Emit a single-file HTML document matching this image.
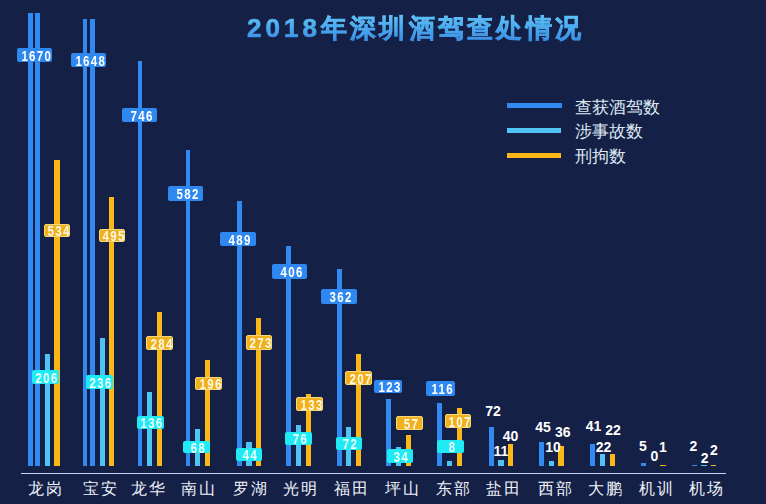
<!DOCTYPE html>
<html><head><meta charset="utf-8"><style>
html,body{margin:0;padding:0;}
body{width:766px;height:504px;overflow:hidden;background:#152046;position:relative;font-family:"Liberation Sans",sans-serif;}
.b{position:absolute;}
.x{position:absolute;box-sizing:border-box;border-radius:2px;color:#fff;font-weight:bold;font-size:14px;line-height:14px;padding-top:1px;padding-left:2px;display:flex;align-items:center;justify-content:center;}
.x span{display:inline-block;transform:scaleX(0.82);letter-spacing:1.6px;margin-right:-1.6px;}
.t{position:absolute;color:#fff;font-weight:bold;font-size:14px;line-height:10px;text-align:center;}
.c{position:absolute;top:479px;width:60px;text-align:center;color:#eef2fa;font-size:16px;line-height:20px;letter-spacing:2px;}
.title{position:absolute;left:247px;top:13px;font-size:26px;line-height:30px;font-weight:bold;letter-spacing:3.25px;white-space:nowrap;background:linear-gradient(180deg,#62c6f7 0%,#4aa8ee 50%,#3a8ae2 100%);-webkit-background-clip:text;background-clip:text;color:transparent;-webkit-text-stroke:0.7px transparent;}
.lg{position:absolute;left:507px;width:55px;height:5px;}
.lt{position:absolute;left:574.5px;color:#dfe8f2;font-size:17px;line-height:20px;}
.axis{position:absolute;left:21px;width:705px;top:473px;height:1px;background:#c4d2ee;}
</style></head><body>

<div class="title"><span style="letter-spacing:4px">2018</span>年深圳酒驾查处情况</div>
<div class="lg" style="top:103px;background:#3189f2"></div>
<div class="lg" style="top:128px;width:54px;background:#4ec3f4"></div>
<div class="lg" style="top:153px;width:54px;background:#f9b815"></div>
<div class="lt" style="top:98px">查获酒驾数</div>
<div class="lt" style="top:122px">涉事故数</div>
<div class="lt" style="top:147px">刑拘数</div>
<div class="b" style="left:28px;width:5px;top:13px;height:453px;background:#3189f2"></div>
<div class="b" style="left:35px;width:5px;top:13px;height:453px;background:#3189f2"></div>
<div class="b" style="left:45px;width:5px;top:354px;height:112px;background:#4ec3f4"></div>
<div class="b" style="left:54px;width:6px;top:160px;height:306px;background:#f9b815"></div>
<div class="b" style="left:83px;width:4px;top:18.5px;height:447.5px;background:#3189f2"></div>
<div class="b" style="left:90px;width:5px;top:18.5px;height:447.5px;background:#3189f2"></div>
<div class="b" style="left:100px;width:5px;top:338px;height:128px;background:#4ec3f4"></div>
<div class="b" style="left:109px;width:5px;top:197px;height:269px;background:#f9b815"></div>
<div class="b" style="left:138px;width:4px;top:61px;height:405px;background:#3189f2"></div>
<div class="b" style="left:147px;width:5px;top:392px;height:74px;background:#4ec3f4"></div>
<div class="b" style="left:157px;width:5px;top:312px;height:154px;background:#f9b815"></div>
<div class="b" style="left:186px;width:4px;top:150px;height:316px;background:#3189f2"></div>
<div class="b" style="left:195px;width:5px;top:429px;height:37px;background:#4ec3f4"></div>
<div class="b" style="left:205px;width:5px;top:360px;height:106px;background:#f9b815"></div>
<div class="b" style="left:237px;width:5px;top:201px;height:265px;background:#3189f2"></div>
<div class="b" style="left:246px;width:6px;top:442px;height:24px;background:#4ec3f4"></div>
<div class="b" style="left:256px;width:5px;top:318px;height:148px;background:#f9b815"></div>
<div class="b" style="left:286px;width:5px;top:246px;height:220px;background:#3189f2"></div>
<div class="b" style="left:296px;width:5px;top:425px;height:41px;background:#4ec3f4"></div>
<div class="b" style="left:306px;width:5px;top:394px;height:72px;background:#f9b815"></div>
<div class="b" style="left:337px;width:5px;top:269px;height:197px;background:#3189f2"></div>
<div class="b" style="left:346px;width:5px;top:427px;height:39px;background:#4ec3f4"></div>
<div class="b" style="left:356px;width:5px;top:354px;height:112px;background:#f9b815"></div>
<div class="b" style="left:386px;width:5px;top:399px;height:67px;background:#3189f2"></div>
<div class="b" style="left:396px;width:5px;top:447px;height:19px;background:#4ec3f4"></div>
<div class="b" style="left:406px;width:5px;top:435px;height:31px;background:#f9b815"></div>
<div class="b" style="left:437px;width:5px;top:403px;height:63px;background:#3189f2"></div>
<div class="b" style="left:447px;width:5px;top:461px;height:5px;background:#4ec3f4"></div>
<div class="b" style="left:457px;width:5px;top:408px;height:58px;background:#f9b815"></div>
<div class="b" style="left:489px;width:5px;top:427px;height:39px;background:#3189f2"></div>
<div class="b" style="left:498px;width:6px;top:460px;height:6px;background:#4ec3f4"></div>
<div class="b" style="left:508px;width:5px;top:444px;height:22px;background:#f9b815"></div>
<div class="b" style="left:539px;width:5px;top:442px;height:24px;background:#3189f2"></div>
<div class="b" style="left:549px;width:5px;top:461px;height:5px;background:#4ec3f4"></div>
<div class="b" style="left:558px;width:6px;top:446px;height:20px;background:#f9b815"></div>
<div class="b" style="left:590px;width:5px;top:444px;height:22px;background:#3189f2"></div>
<div class="b" style="left:600px;width:5px;top:454px;height:12px;background:#4ec3f4"></div>
<div class="b" style="left:610px;width:5px;top:454px;height:12px;background:#f9b815"></div>
<div class="b" style="left:641px;width:5px;top:463px;height:3px;background:#3189f2"></div>
<div class="b" style="left:660px;width:6px;top:465px;height:1px;background:#f9b815"></div>
<div class="b" style="left:692px;width:5px;top:465px;height:1px;background:#3189f2"></div>
<div class="b" style="left:701px;width:6px;top:465px;height:1px;background:#4ec3f4"></div>
<div class="b" style="left:711px;width:5px;top:465px;height:1px;background:#f9b815"></div>
<div class="x" style="left:17px;width:35px;top:48px;height:14px;background:#2e88ef;padding-left:3px"><span>1670</span></div>
<div class="x" style="left:32px;width:27px;top:370px;height:14px;background:#20ebf4;color:#eaffff"><span>206</span></div>
<div class="x" style="left:44px;width:26px;top:224px;height:13px;background:#efb11e;border:1px solid #f6d77a;color:#fff8e4;padding-left:3px"><span>534</span></div>
<div class="x" style="left:71px;width:35px;top:53px;height:14px;background:#2e88ef;padding-left:3px"><span>1648</span></div>
<div class="x" style="left:86px;width:27px;top:375px;height:14px;background:#20ebf4;color:#eaffff"><span>236</span></div>
<div class="x" style="left:99px;width:26px;top:229px;height:13px;background:#efb11e;border:1px solid #f6d77a;color:#fff8e4;padding-left:3px"><span>495</span></div>
<div class="x" style="left:122px;width:35px;top:108px;height:14px;background:#2e88ef;padding-left:3px"><span>746</span></div>
<div class="x" style="left:137px;width:27px;top:416px;height:13px;background:#20ebf4;color:#eaffff"><span>136</span></div>
<div class="x" style="left:146px;width:27px;top:336px;height:14px;background:#efb11e;border:1px solid #f6d77a;color:#fff8e4;padding-left:3px"><span>284</span></div>
<div class="x" style="left:168px;width:35px;top:186px;height:15px;background:#2e88ef;padding-left:3px"><span>582</span></div>
<div class="x" style="left:183px;width:27px;top:441px;height:12px;background:#20ebf4;color:#eaffff"><span>68</span></div>
<div class="x" style="left:195px;width:27px;top:377px;height:13px;background:#efb11e;border:1px solid #f6d77a;color:#fff8e4;padding-left:3px"><span>196</span></div>
<div class="x" style="left:220px;width:36px;top:232px;height:14px;background:#2e88ef;padding-left:3px"><span>489</span></div>
<div class="x" style="left:236px;width:26px;top:448px;height:13px;background:#20ebf4;color:#eaffff"><span>44</span></div>
<div class="x" style="left:246px;width:26px;top:335px;height:15px;background:#efb11e;border:1px solid #f6d77a;color:#fff8e4;padding-left:3px"><span>273</span></div>
<div class="x" style="left:272px;width:35px;top:264px;height:15px;background:#2e88ef;padding-left:3px"><span>406</span></div>
<div class="x" style="left:285px;width:27px;top:432px;height:13px;background:#20ebf4;color:#eaffff"><span>76</span></div>
<div class="x" style="left:296px;width:27px;top:397px;height:14px;background:#efb11e;border:1px solid #f6d77a;color:#fff8e4;padding-left:3px"><span>133</span></div>
<div class="x" style="left:321px;width:36px;top:289px;height:15px;background:#2e88ef;padding-left:3px"><span>362</span></div>
<div class="x" style="left:336px;width:26px;top:437px;height:13px;background:#20ebf4;color:#eaffff"><span>72</span></div>
<div class="x" style="left:345px;width:27px;top:371px;height:14px;background:#efb11e;border:1px solid #f6d77a;color:#fff8e4;padding-left:3px"><span>207</span></div>
<div class="x" style="left:374px;width:28px;top:380px;height:13px;background:#2e88ef;padding-left:3px"><span>123</span></div>
<div class="x" style="left:387px;width:26px;top:449px;height:14px;background:#20ebf4;color:#eaffff"><span>34</span></div>
<div class="x" style="left:396px;width:27px;top:416px;height:14px;background:#efb11e;border:1px solid #f6d77a;color:#fff8e4;padding-left:3px"><span>57</span></div>
<div class="x" style="left:426px;width:29px;top:381px;height:15px;background:#2e88ef;padding-left:3px"><span>116</span></div>
<div class="x" style="left:437px;width:27px;top:440px;height:13px;background:#20ebf4;color:#eaffff"><span>8</span></div>
<div class="x" style="left:445px;width:26px;top:414px;height:14px;background:#efb11e;border:1px solid #f6d77a;color:#fff8e4;padding-left:3px"><span>107</span></div>
<div class="t" style="left:478px;width:30px;top:406px">72</div>
<div class="t" style="left:486px;width:30px;top:446px">11</div>
<div class="t" style="left:495.5px;width:30px;top:431px">40</div>
<div class="t" style="left:528px;width:30px;top:422px">45</div>
<div class="t" style="left:538px;width:30px;top:442px">10</div>
<div class="t" style="left:547.75px;width:30px;top:427px">36</div>
<div class="t" style="left:578.5px;width:30px;top:421px">41</div>
<div class="t" style="left:588.5px;width:30px;top:442px">22</div>
<div class="t" style="left:598px;width:30px;top:425px">22</div>
<div class="t" style="left:628px;width:30px;top:441px">5</div>
<div class="t" style="left:639.5px;width:30px;top:451px">0</div>
<div class="t" style="left:648px;width:30px;top:442px">1</div>
<div class="t" style="left:678.5px;width:30px;top:441px">2</div>
<div class="t" style="left:689.75px;width:30px;top:453px">2</div>
<div class="t" style="left:699px;width:30px;top:444.5px">2</div>
<div class="axis"></div>
<div class="c" style="left:16px">龙岗</div>
<div class="c" style="left:70.7px">宝安</div>
<div class="c" style="left:119px">龙华</div>
<div class="c" style="left:169.4px">南山</div>
<div class="c" style="left:220.5px">罗湖</div>
<div class="c" style="left:271px">光明</div>
<div class="c" style="left:322.4px">福田</div>
<div class="c" style="left:372.8px">坪山</div>
<div class="c" style="left:423.8px">东部</div>
<div class="c" style="left:474.3px">盐田</div>
<div class="c" style="left:526px">西部</div>
<div class="c" style="left:576.4px">大鹏</div>
<div class="c" style="left:626.8px">机训</div>
<div class="c" style="left:677.2px">机场</div>
</body></html>
